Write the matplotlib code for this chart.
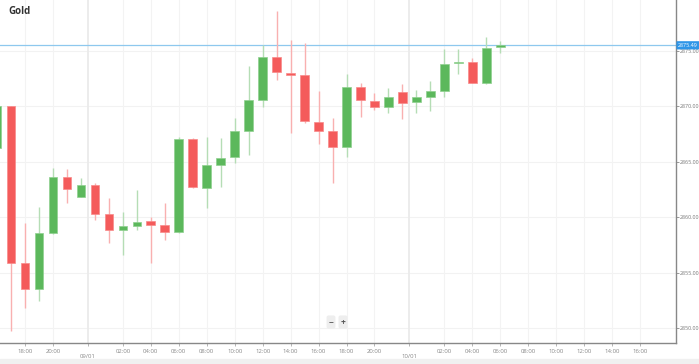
import matplotlib.pyplot as plt
import numpy as np

# hourly OHLC, 16:00 (day 0) to 06:00 (10/01); 22:00 hour is the market break
hours = ["16:00", "17:00", "18:00", "19:00", "20:00", "21:00", "23:00", "00:00",
         "01:00", "02:00", "03:00", "04:00", "05:00", "06:00", "07:00", "08:00",
         "09:00", "10:00", "11:00", "12:00", "13:00", "14:00", "15:00", "16:00",
         "17:00", "18:00", "19:00", "20:00", "21:00", "23:00", "00:00", "01:00",
         "02:00", "03:00", "04:00", "05:00", "06:00"]
opens = [2866.2, 2870.0, 2855.9, 2853.5, 2858.55, 2863.65, 2861.8, 2862.95,
         2860.3, 2858.85, 2859.2, 2859.7, 2859.33, 2858.65, 2867.05, 2862.6,
         2864.73, 2865.4, 2867.8, 2870.56, 2874.4, 2872.95, 2872.8, 2868.6,
         2867.8, 2866.3, 2871.7, 2870.5, 2869.9, 2871.3, 2870.4, 2870.86,
         2871.37, 2873.86, 2874.0, 2872.06, 2875.3]
highs = [2870.2, 2870.05, 2859.45, 2860.9, 2864.45, 2864.35, 2863.5, 2863.05,
         2861.7, 2860.45, 2862.5, 2860.05, 2861.25, 2867.25, 2867.1, 2867.25,
         2867.1, 2868.9, 2873.62, 2875.5, 2878.6, 2876.0, 2875.7, 2871.37,
         2868.9, 2872.9, 2872.1, 2871.16, 2871.67, 2871.97, 2871.5, 2872.27,
         2875.13, 2875.13, 2874.37, 2876.26, 2875.87]
lows = [2865.8, 2849.8, 2851.85, 2852.5, 2858.5, 2861.3, 2861.8, 2859.8,
        2857.65, 2856.65, 2858.9, 2855.85, 2858.0, 2858.6, 2862.6, 2860.8,
        2862.7, 2864.86, 2865.6, 2869.9, 2872.4, 2867.6, 2868.45, 2866.6,
        2863.05, 2865.45, 2869.0, 2869.66, 2869.36, 2868.85, 2869.36, 2869.6,
        2870.86, 2872.9, 2872.1, 2872.0, 2874.77]
closes = [2870.0, 2855.9, 2853.5, 2858.55, 2863.65, 2862.55, 2862.95, 2860.3,
          2858.9, 2859.2, 2859.6, 2859.33, 2858.65, 2867.05, 2862.7, 2864.73,
          2865.3, 2867.8, 2870.56, 2874.4, 2873.05, 2872.85, 2868.67, 2867.8,
          2866.3, 2871.7, 2870.53, 2869.9, 2870.86, 2870.32, 2870.86, 2871.37,
          2873.8, 2873.98, 2872.1, 2875.27, 2875.49]
last_price = 2875.49

# axis labels (positions in candle-index units, 0 = 17:00 of day 0)
tick_labels = ["18:00", "20:00", "09/01", "02:00", "04:00", "06:00", "08:00",
               "10:00", "12:00", "14:00", "16:00", "18:00", "20:00", "10/01",
               "02:00", "04:00", "06:00", "08:00", "10:00", "12:00", "14:00", "16:00"]
tick_pos = [1, 3, 5.5, 8, 10, 12, 14, 16, 18, 20, 22, 24, 26, 28.5,
            31, 33, 35, 37, 39, 41, 43, 45]
price_ticks = [2850, 2855, 2860, 2865, 2870, 2875]

GREEN = "#5cb85c"
RED = "#f45b5b"
GREEN_WICK = "#b5ddb5"
RED_WICK = "#f9b0b0"

plt.rcParams["font.family"] = ["Open Sans", "DejaVu Sans"]

fig = plt.figure(figsize=(6.99, 3.64), dpi=100)
ax = fig.add_axes([0, 1 - 343 / 364, 676 / 699, 343 / 364])

x = np.arange(len(opens)) - 1
o = np.array(opens)
c = np.array(closes)
up = c >= o
body_col = np.where(up, GREEN, RED)
wick_col = np.where(up, GREEN_WICK, RED_WICK)

# grid
for p in price_ticks:
    ax.axhline(p, color="#f2f2f2", lw=0.8, zorder=0)
for lab, p in zip(tick_labels, tick_pos):
    date = "/" in lab
    ax.axvline(p, color="#ebebeb" if date else "#f3f3f3",
               lw=1.3 if date else 0.8, zorder=0)

ax.vlines(x, lows, highs, colors=wick_col, lw=1.0, zorder=2)
ax.bar(x, np.maximum(np.abs(c - o), 0.12), bottom=np.minimum(o, c), width=0.62,
       color=body_col, edgecolor=["#8fd08f" if u else "#f88a8a" for u in up],
       linewidth=0.5, zorder=3)

# last price line
ax.axhline(last_price, color="#8ec8ee", lw=0.9, zorder=1)

ax.set_xlim(-0.79, 47.57)
ax.set_ylim(2848.68, 2879.57)

for side in ["left", "top"]:
    ax.spines[side].set_visible(False)
for side in ["right", "bottom"]:
    ax.spines[side].set_color("#888888")
    ax.spines[side].set_linewidth(1.0)

ax.yaxis.tick_right()
ax.set_yticks(price_ticks)
ax.set_yticklabels([f"{p:.2f}" for p in price_ticks])
ax.tick_params(axis="y", labelsize=3.9, colors="#888888", length=2, width=0.6,
               pad=1, labelcolor="#777777")

ax.set_xticks(tick_pos)
ax.set_xticklabels(["" if "/" in t else t for t in tick_labels])
ax.tick_params(axis="x", labelsize=4.3, colors="#aaaaaa", length=2.5, width=0.6,
               pad=1.5, labelcolor="#888888")
# date labels sit one row lower
for lab, p in zip(tick_labels, tick_pos):
    if "/" in lab:
        ax.text(p, -13 / 343, lab, transform=ax.get_xaxis_transform(),
                fontsize=4.3, color="#888888", ha="center", va="center",
                clip_on=False)

# price tag on the right axis
ax.text(1.003, last_price, f"{last_price:.2f}", transform=ax.get_yaxis_transform(),
        fontsize=3.9, color="white", va="center", ha="left", zorder=5,
        bbox=dict(boxstyle="round,pad=0.3,rounding_size=0.15", fc="#2f96e8",
                  ec="none"), clip_on=False)

fig.text(8 / 699, 1 - 11 / 364, "Gold", fontsize=7, fontweight="bold",
         color="#333333", va="center", ha="left")

# zoom buttons
for xx, s in [(331 / 699, "−"), (343 / 699, "+")]:
    fig.text(xx, 1 - 322 / 364, s, fontsize=6, fontweight="bold", color="#555555",
             ha="center", va="center",
             bbox=dict(boxstyle="round,pad=0.25", fc="#eeeeee", ec="none"))

# grey strip at bottom
fig.patches.append(plt.Rectangle((0, 0), 1, 5 / 364, transform=fig.transFigure,
                                 color="#f0f0f0", zorder=0))

fig.savefig("out.png", dpi=100)
